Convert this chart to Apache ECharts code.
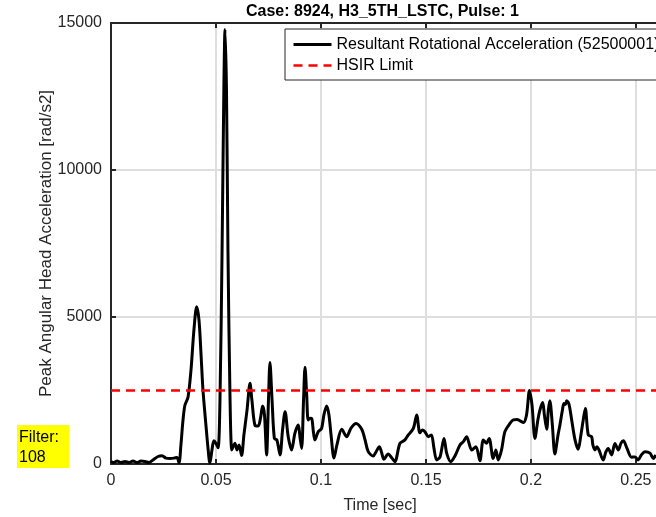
<!DOCTYPE html>
<html>
<head>
<meta charset="utf-8">
<script src="https://cdn.jsdelivr.net/npm/echarts@6/dist/echarts.min.js"></script>
<style>
  html, body { margin: 0; padding: 0; background: #fff; }
  #chart { width: 656px; height: 517px; }
</style>
</head>
<body>
<div id="chart"></div>
<script>
// Pulse record: time [s] and resultant rotational acceleration [rad/s2]
const timeSec = [
  0, 0.0014, 0.0029, 0.0048, 0.0067, 0.0086, 0.0105, 0.0124, 0.0143, 0.0162,
  0.0181, 0.02, 0.0224, 0.0243, 0.0262, 0.0281, 0.03, 0.0314, 0.0324, 0.0333,
  0.0343, 0.0352, 0.0367, 0.0381, 0.0395, 0.0408, 0.0419, 0.0429, 0.0438, 0.0452,
  0.0462, 0.0471, 0.0481, 0.049, 0.05, 0.051, 0.0519, 0.0529, 0.0538, 0.0543,
  0.055, 0.0557, 0.0567, 0.0575, 0.0581, 0.059, 0.06, 0.061, 0.0622, 0.0633,
  0.0648, 0.0662, 0.0671, 0.0686, 0.0701, 0.0712, 0.0722, 0.0731, 0.0741, 0.075,
  0.0757, 0.0767, 0.0778, 0.079, 0.0805, 0.0817, 0.0829, 0.0844, 0.086, 0.0876,
  0.0892, 0.09, 0.0908, 0.0917, 0.0924, 0.0932, 0.0939, 0.0948, 0.0956, 0.0964,
  0.0971, 0.0987, 0.1003, 0.1014, 0.1027, 0.1038, 0.1048, 0.1062, 0.1076, 0.1099,
  0.1122, 0.1143, 0.1167, 0.1194, 0.121, 0.1225, 0.1249, 0.1262, 0.1278, 0.1288,
  0.13, 0.132, 0.1338, 0.1352, 0.1376, 0.14, 0.1416, 0.144, 0.1456, 0.1471,
  0.1483, 0.1495, 0.1511, 0.1526, 0.1538, 0.1551, 0.1567, 0.1586, 0.1599, 0.1618,
  0.1638, 0.1662, 0.1678, 0.1694, 0.1705, 0.1718, 0.1738, 0.1757, 0.1773, 0.1788,
  0.1801, 0.182, 0.1833, 0.1844, 0.186, 0.1876, 0.19, 0.1916, 0.1933, 0.1948,
  0.1964, 0.1979, 0.1993, 0.2005, 0.2019, 0.2033, 0.2043, 0.2056, 0.2064, 0.2075,
  0.2083, 0.209, 0.2102, 0.2114, 0.2129, 0.2138, 0.215, 0.2157, 0.2164, 0.217,
  0.2181, 0.2194, 0.221, 0.2225, 0.2238, 0.2249, 0.2259, 0.2273, 0.2289, 0.2295,
  0.2305, 0.2314, 0.2324, 0.2344, 0.2357, 0.2368, 0.2384, 0.24, 0.2416, 0.2429,
  0.244, 0.2457, 0.2479, 0.2495, 0.2511, 0.2526, 0.2543, 0.2567, 0.2583, 0.2595
];
const rotAccel = [
  85, 50, 100, 50, 85, 50, 100, 50, 100, 85,
  50, 140, 255, 280, 200, 190, 200, 220, 40, 650,
  1500, 2000, 2280, 3200, 4560, 5350, 4900, 3700, 2520, 1330,
  540, 30, 480, 790, 700, 550, 2180, 7280, 13060, 14780,
  12720, 7280, 2180, 480, 580, 710, 480, 650, 290, 990,
  1840, 2750, 2180, 1310, 1290, 1560, 1970, 1670, 310, 2180,
  3450, 2180, 870, 820, 310, 1160, 1780, 930, 480, 1050,
  1330, 920, 530, 2180, 3290, 2350, 1500, 1560, 1550, 1090,
  820, 1100, 1210, 1670, 1970, 1670, 990, 200, 650, 1180,
  930, 1220, 1380, 1180, 820, 420, 270, 410, 590, 410,
  160, 340, 200, 80, 700, 820, 990, 1210, 1670, 1060,
  1160, 1100, 930, 990, 540, 140, 240, 870, 360, 80,
  270, 650, 760, 930, 710, 480, 590, 110, 820, 710,
  870, 190, 480, 140, 480, 1100, 1380, 1500, 1510, 1470,
  1410, 1670, 2500, 2010, 870, 1500, 1840, 2090, 1670, 1180,
  1840, 2150, 1330, 340, 990, 1330, 1840, 2060, 2020, 2150,
  2040, 1500, 820, 500, 990, 1500, 1890, 990, 930, 650,
  480, 590, 480, 140, 410, 530, 310, 700, 480, 710,
  790, 540, 230, 240, 140, 310, 420, 370, 190, 310
];
const hsirLimit = 2500;
const xTicks = [0, 0.05, 0.1, 0.15, 0.2, 0.25];
const yTicks = [0, 5000, 10000, 15000];
const xMax = 0.2648;

const titleText = 'Case: 8924, H3_5TH_LSTC, Pulse: 1';
const seriesName = 'Resultant Rotational Acceleration (52500001)';
const limitName = 'HSIR Limit';
const filterText = 'Filter:\n108';

const axisColor = '#262626';
const gridColor = '#dedede';
const font = '"Liberation Sans", Arial, Helvetica, sans-serif';

const accelData = timeSec.map((t, i) => [t, rotAccel[i]]);
const limitData = [[0, hsirLimit], [xMax, hsirLimit]];

const chart = echarts.init(document.getElementById('chart'), null, { renderer: 'canvas' });

const GRID = { left: 111, top: 23, width: 556, height: 441 };

chart.setOption({
  animation: false,
  backgroundColor: '#ffffff',
  textStyle: { fontFamily: font, color: axisColor },
  grid: Object.assign({ containLabel: false, outerBoundsMode: 'none' }, GRID),
  legend: {
    orient: 'vertical',
    left: 285,
    top: 29,
    backgroundColor: '#ffffff',
    borderColor: axisColor,
    borderWidth: 1,
    borderRadius: 0,
    padding: [6, 12, 5, 7],
    itemGap: 2,
    itemWidth: 38,
    itemHeight: 1,
    textStyle: { fontSize: 16, color: '#000000', lineHeight: 19, fontFamily: font },
    data: [
      { name: seriesName, lineStyle: { width: 3 } },
      { name: limitName, lineStyle: { width: 2.5 } }
    ]
  },
  xAxis: [
    {
      type: 'value',
      position: 'bottom',
      min: 0,
      max: xMax,
      interval: 0.05,
      name: 'Time [sec]',
      nameLocation: 'middle',
      nameGap: 32,
      nameMoveOverlap: false,
      nameTextStyle: { fontSize: 16, color: axisColor, padding: [2, 18, 0, 0] },
      axisLine: { show: true, onZero: false, lineStyle: { color: axisColor, width: 2 } },
      axisTick: { show: true, inside: true, length: 5, lineStyle: { color: axisColor, width: 2 },
        customValues: xTicks },
      axisLabel: { fontSize: 16, color: axisColor, margin: 9,
        customValues: xTicks,
        formatter: v => String(+v.toFixed(2)) },
      splitLine: { show: true, lineStyle: { color: gridColor, width: 2 } }
    },
    {
      type: 'value',
      position: 'top',
      min: 0,
      max: xMax,
      interval: 0.05,
      axisLine: { show: true, onZero: false, lineStyle: { color: axisColor, width: 2 } },
      axisTick: { show: true, inside: true, length: 5, lineStyle: { color: axisColor, width: 2 },
        customValues: xTicks },
      axisLabel: { show: false },
      splitLine: { show: false }
    }
  ],
  yAxis: {
    type: 'value',
    min: 0,
    max: 15000,
    interval: 5000,
    name: 'Peak Angular Head Acceleration [rad/s2]',
    nameLocation: 'middle',
    nameGap: 56,
    nameMoveOverlap: false,
    nameTextStyle: { fontSize: 17, color: axisColor },
    axisLine: { show: true, onZero: false, lineStyle: { color: axisColor, width: 2 } },
    axisTick: { show: true, inside: true, length: 5, lineStyle: { color: axisColor, width: 2 },
      customValues: yTicks },
    axisLabel: { fontSize: 16, color: axisColor, margin: 9, customValues: yTicks,
      formatter: v => String(v) },
    splitLine: { show: true, lineStyle: { color: gridColor, width: 2 } }
  },
  series: [
    {
      name: seriesName,
      type: 'line',
      data: accelData,
      symbol: 'none',
      smooth: 0.3,
      lineStyle: { color: '#000000', width: 3 },
      itemStyle: { color: '#000000' },
      z: 3
    },
    {
      name: limitName,
      type: 'line',
      data: limitData,
      symbol: 'none',
      lineStyle: { color: '#ff0000', width: 2.5, type: [9, 6] },
      itemStyle: { color: '#ff0000' },
      z: 4
    }
  ],
  graphic: [
    {
      type: 'text',
      left: 387 - 141,
      top: 4,
      style: { text: titleText, font: 'bold 16px ' + font, fill: '#000000' }
    },
    {
      type: 'rect',
      shape: { x: 17, y: 425, width: 52, height: 43 },
      style: { fill: '#ffff00' }
    },
    {
      type: 'text',
      x: 19,
      y: 428,
      style: { text: filterText, font: '16px ' + font, fill: '#000000', lineHeight: 20 }
    }
  ]
});
</script>
</body>
</html>
